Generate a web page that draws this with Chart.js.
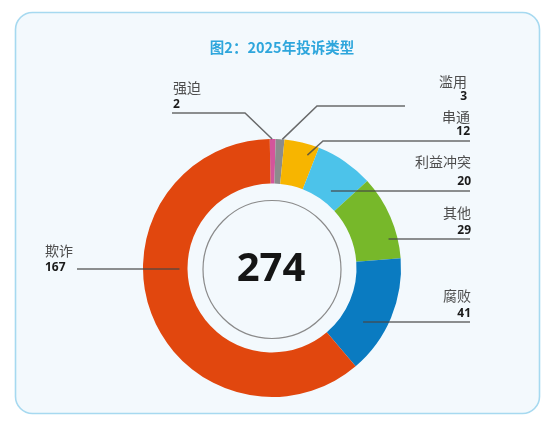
<!DOCTYPE html>
<html>
<head>
<meta charset="utf-8">
<script src="https://cdn.jsdelivr.net/npm/chart.js@4"></script>
<style>
  html, body { margin: 0; padding: 0; background: #ffffff; }
  #wrap { width: 549px; height: 425px; }
</style>
</head>
<body>
<div id="wrap"><canvas id="my-chart" width="549" height="425"></canvas></div>
<script>
let categories = ["强迫", "滥用", "串通", "利益冲突", "其他", "腐败", "欺诈"]
let counts = [2, 3, 12, 20, 29, 41, 167]
let sliceColors = ["#d4559b", "#8c8c8c", "#f7b500", "#4cc3ea", "#77b82a", "#0a7bc1", "#e1470e"]
let titleText = "图2：2025年投诉类型"

// where each label sits (t = spot along the slice, rf = depth in the ring)
let labelLayout = [
    {side: "left",  textX: 173, nameY: 88,  valueY: 105, lineY: 113, lineEnd: 172, elbowX: 245, t: 0.4, rf: 1},
    {side: "right", textX: 467, nameY: 82,  valueY: 97,  lineY: 106, lineEnd: 405, elbowX: 317, t: 0.75, rf: 1},
    {side: "right", textX: 470, nameY: 117, valueY: 132, lineY: 141, lineEnd: 470, elbowX: 323, t: 0.75, rf: 0.76},
    {side: "right", textX: 471, nameY: 162, valueY: 182, lineY: 191, lineEnd: 470, rf: 0.28},
    {side: "right", textX: 471, nameY: 213, valueY: 231, lineY: 239, lineEnd: 470, rf: 0.8},
    {side: "right", textX: 471, nameY: 296, valueY: 314, lineY: 322, lineEnd: 470, rf: 0.48},
    {side: "left",  textX: 45,  nameY: 251, valueY: 268, lineY: 269, lineEnd: 77,  rf: 0.18}
]

const cardPlugin = {
    id: "card",
    beforeDraw(chart) {
        const ctx = chart.ctx
        ctx.save()
        ctx.fillStyle = "#ffffff"
        ctx.fillRect(0, 0, chart.width, chart.height)
        ctx.beginPath()
        ctx.roundRect(15.5, 12.5, 524, 401, 17)
        ctx.fillStyle = "#f3f9fd"
        ctx.fill()
        ctx.lineWidth = 1.6
        ctx.strokeStyle = "#a6d9f0"
        ctx.stroke()
        ctx.fillStyle = "#2ea6dc"
        ctx.font = "bold 14.5px 'Noto Sans CJK SC'"
        ctx.textAlign = "center"
        ctx.textBaseline = "middle"
        ctx.fillText(titleText, 282, 47)
        ctx.restore()
    }
}

const labelPlugin = {
    id: "labels",
    afterDatasetsDraw(chart) {
        const ctx = chart.ctx
        const arcs = chart.getDatasetMeta(0).data
        const total = counts.reduce((a, b) => a + b, 0)
        ctx.save()
        const c = arcs[0]
        // inner ring and total
        ctx.beginPath()
        ctx.arc(c.x, c.y + 1.5, 69, 0, Math.PI * 2)
        ctx.strokeStyle = "#8a8a8a"
        ctx.lineWidth = 1.2
        ctx.stroke()
        ctx.fillStyle = "#151515"
        ctx.font = "bold 40px 'Open Sans'"
        ctx.textAlign = "center"
        ctx.textBaseline = "middle"
        ctx.fillText(String(total), c.x - 1, c.y + 2)

        arcs.forEach((arc, i) => {
            const L = labelLayout[i]
            const r = arc.innerRadius + L.rf * (arc.outerRadius - arc.innerRadius)
            let pts = []
            if (L.elbowX !== undefined) {
                const a = arc.startAngle + L.t * (arc.endAngle - arc.startAngle)
                pts.push([arc.x + r * Math.cos(a), arc.y + r * Math.sin(a)])
                pts.push([L.elbowX, L.lineY])
            } else {
                const dy = L.lineY - arc.y
                const dx = Math.sqrt(Math.max(r * r - dy * dy, 0))
                pts.push([L.side === "right" ? arc.x + dx : arc.x - dx, L.lineY])
            }
            pts.push([L.lineEnd, L.lineY])
            ctx.beginPath()
            ctx.moveTo(pts[0][0], pts[0][1])
            for (let k = 1; k < pts.length; k++) ctx.lineTo(pts[k][0], pts[k][1])
            ctx.strokeStyle = "rgba(70,70,70,0.8)"
            ctx.lineWidth = 1.5
            ctx.stroke()

            ctx.textAlign = L.side === "right" ? "right" : "left"
            ctx.textBaseline = "middle"
            ctx.fillStyle = "#4d4d4d"
            ctx.font = "14px 'Noto Sans CJK SC'"
            ctx.fillText(categories[i], L.textX, L.nameY)
            ctx.fillStyle = "#1a1a1a"
            ctx.font = "bold 12px 'Open Sans'"
            ctx.fillText(String(counts[i]), L.textX, L.valueY)
        })
        ctx.restore()
    }
}

new Chart("my-chart", {
    type: "doughnut",
    data: {
        labels: categories,
        datasets: [{
            data: counts,
            backgroundColor: sliceColors,
            borderWidth: 0
        }]
    },
    options: {
        responsive: false,
        animation: false,
        rotation: -1,
        cutout: "65.5%",
        layout: {
            padding: {left: 143, top: 139, right: 148, bottom: 28}
        },
        plugins: {
            legend: {display: false},
            tooltip: {enabled: false}
        }
    },
    plugins: [cardPlugin, labelPlugin]
})
</script>
</body>
</html>
